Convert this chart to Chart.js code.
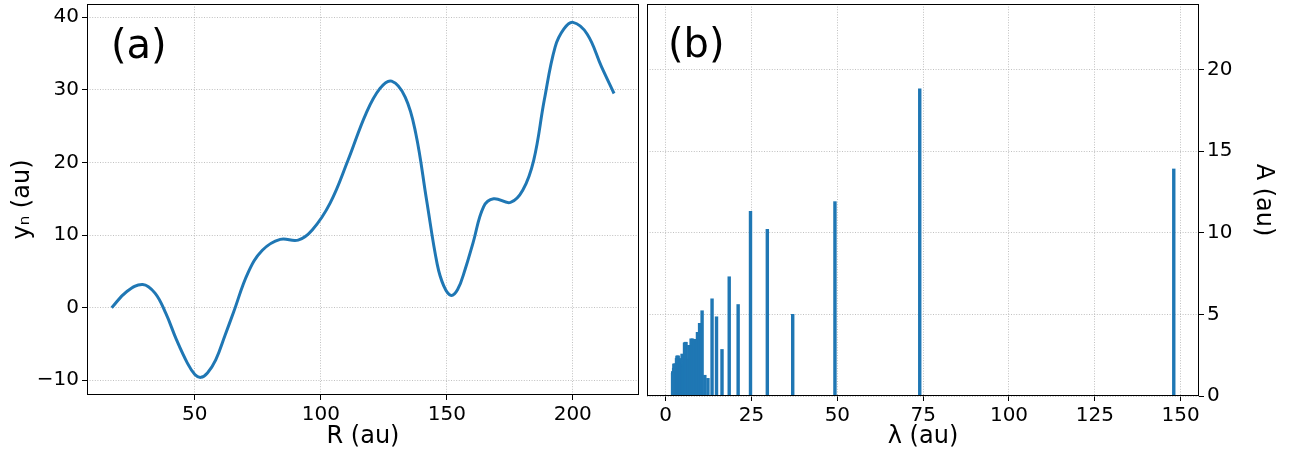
<!DOCTYPE html>
<html>
<head>
<meta charset="utf-8">
<script src="https://cdn.jsdelivr.net/npm/chart.js@4.4.0/dist/chart.umd.min.js"></script>
<style>
  html, body { margin: 0; padding: 0; background: #fff; }
  #wrap { position: relative; width: 1289px; height: 457px; }
  canvas { position: absolute; top: 0; }
  #perfilChart { left: 0; }
  #espectroChart { left: 641px; }
</style>
</head>
<body>
<div id="wrap">
  <canvas id="perfilChart" width="641" height="457"></canvas>
  <canvas id="espectroChart" width="648" height="457"></canvas>
</div>
<script>
// (a) profile y_n(R)
const raioR = [17.0, 22.9, 29.3, 34.2, 38.5, 42.7, 47.0, 50.0, 52.4, 55.0, 58.3, 62.0, 65.4, 71.1, 76.8, 83.9, 91.0, 96.6, 103.7, 110.8, 117.9, 123.5, 128.1, 133.5, 137.7, 142.0, 146.2, 148.8, 151.6, 154.3, 157.3, 160.4, 164.6, 168.6, 175.3, 180.2, 184.5, 188.7, 193.0, 196.5, 200.1, 205.7, 211.4, 216.4];
const perfilY = [0.0, 2.2, 3.2, 2.0, -0.8, -4.4, -7.6, -9.2, -9.6, -9.0, -7.2, -3.8, -0.6, 4.8, 7.9, 9.4, 9.3, 10.7, 14.4, 20.3, 26.7, 30.2, 31.2, 29.0, 24.0, 14.8, 6.0, 3.0, 1.7, 2.5, 5.3, 8.9, 13.9, 15.0, 14.5, 16.2, 20.3, 28.6, 35.9, 38.4, 39.3, 37.7, 33.2, 29.5];
const ticksR = [50, 100, 150, 200];
const ticksY = [-10, 0, 10, 20, 30, 40];

// (b) amplitude spectrum A(lambda)
const comprimentoLambda = [148.0, 74.0, 49.3, 37.0, 29.6, 24.7, 21.1, 18.5, 16.4, 14.8, 13.5, 12.3, 11.4, 10.6, 9.87, 9.25, 8.71, 8.22, 7.79, 7.40, 7.05, 6.73, 6.43, 6.17, 5.92, 5.69, 5.48, 5.29, 5.10, 4.93, 4.77, 4.63, 4.48, 4.35, 4.23, 4.11, 4.00, 3.89, 3.79, 3.70, 3.61, 3.52, 3.44, 3.36, 3.29, 3.22, 3.15, 3.08, 3.02, 2.96, 2.85, 2.74, 2.64, 2.55, 2.47, 2.39, 2.31, 2.24, 2.18, 2.11, 2.06, 2.00];
const amplitudeA = [13.9, 18.8, 11.9, 5.0, 10.2, 11.3, 5.6, 7.3, 2.85, 4.85, 5.95, 1.08, 1.27, 5.22, 4.45, 3.9, 3.47, 3.47, 3.5, 3.5, 3.1, 3.1, 2.26, 2.2, 3.29, 3.29, 3.25, 2.5, 2.4, 2.2, 2.57, 2.1, 1.9, 2.0, 2.3, 1.8, 1.9, 2.0, 2.1, 2.2, 2.45, 2.45, 2.4, 2.2, 2.45, 2.0, 2.3, 1.9, 1.8, 1.96, 1.7, 1.96, 1.8, 1.96, 1.6, 1.96, 1.7, 1.5, 1.49, 1.3, 1.49, 1.4];
const ticksLambda = [0, 25, 50, 75, 100, 125, 150];
const ticksA = [0, 5, 10, 15, 20];

const azul = "#1f77b4";
Chart.defaults.font.family = '"DejaVu Sans", sans-serif';
Chart.defaults.color = "#000";

// box around the axes + panel letter
const molduraPlugin = {
  id: "moldura",
  afterDraw(chart, args, opts) {
    const { ctx, chartArea: a } = chart;
    ctx.save();
    ctx.strokeStyle = "#000";
    ctx.lineWidth = 1;
    ctx.strokeRect(Math.round(a.left) + 0.5, Math.round(a.top) + 0.5,
      Math.round(a.right - a.left) - 1, Math.round(a.bottom - a.top) - 1);
    ctx.fillStyle = "#000";
    ctx.font = '40px "DejaVu Sans"';
    ctx.textBaseline = "alphabetic";
    ctx.fillText(opts.label, a.left + opts.dx, a.top + opts.dy);
    ctx.restore();
  },
};

function fixar(prop, size) {
  return function (scale) {
    scale[prop] = size;
    scale.paddingLeft = 0;
    scale.paddingRight = 0;
    scale.paddingTop = 0;
    scale.paddingBottom = 0;
  };
}

function usarTicks(valores) {
  return function (scale) {
    scale.ticks = valores.map((v) => ({ value: v }));
  };
}

function eixo(extra) {
  return Object.assign({
    type: "linear",
    offset: false,
    grid: {
      offset: false,
      color: "#b0b0b0",
      lineWidth: 0.8,
      borderDash: [1, 1.6],
      drawTicks: true,
      tickLength: 5,
      tickColor: "#000",
      tickWidth: 1,
      tickBorderDash: [],
    },
    border: { display: false, dash: [1, 1.6] },
    ticks: {
      font: { size: 20 },
      padding: 3,
      autoSkip: false,
      maxRotation: 0,
      callback: (v) => String(v).replace("-", "\u2212"),
    },
  }, extra);
}

new Chart(document.getElementById("perfilChart").getContext("2d"), {
  type: "line",
  data: {
    datasets: [
      {
        data: raioR.map((r, i) => ({ x: r, y: perfilY[i] })),
        borderColor: azul,
        borderWidth: 3,
        pointRadius: 0,
        fill: false,
        tension: 0.4,
      },
    ],
  },
  options: {
    responsive: false,
    animation: false,
    layout: { padding: { left: 0, top: 4, right: 2, bottom: 0 } },
    plugins: {
      legend: { display: false },
      tooltip: { enabled: false },
      moldura: { label: "(a)", dx: 24, dy: 54 },
    },
    scales: {
      x: eixo({
        min: 7.2,
        max: 226.3,
        afterBuildTicks: usarTicks(ticksR),
        afterFit: fixar("height", 62),
        title: { display: true, text: "R (au)", font: { size: 24 }, padding: { top: 0, bottom: 6 } },
      }),
      y: eixo({
        min: -12.03,
        max: 41.83,
        afterBuildTicks: usarTicks(ticksY),
        afterFit: fixar("width", 87),
        title: { display: true, text: "y\u2099 (au)", font: { size: 24 }, padding: { top: 8, bottom: 0 } },
      }),
    },
  },
  plugins: [molduraPlugin],
});

new Chart(document.getElementById("espectroChart").getContext("2d"), {
  type: "bar",
  data: {
    datasets: [
      {
        data: comprimentoLambda.map((l, i) => ({ x: l, y: amplitudeA[i] })),
        backgroundColor: azul,
        borderWidth: 0,
        barThickness: 2.75,
      },
    ],
  },
  options: {
    responsive: false,
    animation: false,
    layout: { padding: { left: 6, top: 4, right: 0, bottom: 0 } },
    plugins: {
      legend: { display: false },
      tooltip: { enabled: false },
      moldura: { label: "(b)", dx: 21, dy: 53 },
    },
    scales: {
      x: eixo({
        min: -5.45,
        max: 155.35,
        afterBuildTicks: usarTicks(ticksLambda),
        afterFit: fixar("height", 61),
        title: { display: true, text: "\u03bb (au)", font: { size: 24 }, padding: { top: 0, bottom: 6 } },
      }),
      y: eixo({
        position: "right",
        min: 0,
        max: 24,
        afterBuildTicks: usarTicks(ticksA),
        afterFit: fixar("width", 90),
        title: { display: true, text: "A (au)", font: { size: 24 }, padding: { top: 11, bottom: 0 } },
      }),
    },
  },
  plugins: [molduraPlugin],
});
</script>
</body>
</html>
